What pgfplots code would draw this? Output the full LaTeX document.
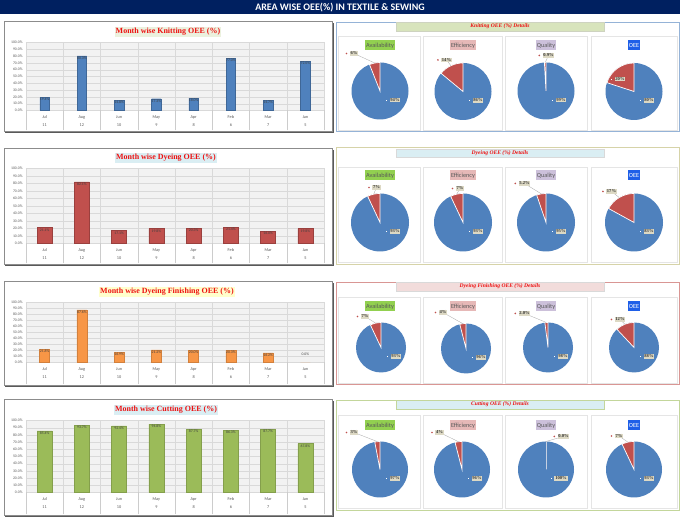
\documentclass[border=0pt]{standalone}
\usepackage{pgfplots}
\pgfplotsset{compat=1.18}
\usepackage{fontspec}
\setmainfont{Carlito}
\newfontfamily\cam{Liberation Serif}
\definecolor{navy}{HTML}{002060}
\definecolor{cblue}{HTML}{4F81BD}
\definecolor{cred}{HTML}{C0504D}
\definecolor{corange}{HTML}{F79646}
\definecolor{cgreen}{HTML}{9BBB59}
\definecolor{ttlred}{HTML}{EE1111}
\definecolor{tanb}{HTML}{DDD9C4}
\definecolor{gtxt}{HTML}{595959}
\definecolor{lblA}{HTML}{92D050}
\definecolor{lblE}{HTML}{E6B8B7}
\definecolor{lblQ}{HTML}{CCC0DA}
\definecolor{lblO}{HTML}{1F5FE8}
\definecolor{tbg1}{HTML}{EBF1DE}
\definecolor{tbg2}{HTML}{DAEEF3}
\definecolor{tbg3}{HTML}{FFFFCC}
\definecolor{hbg1}{HTML}{D8E4BC}
\definecolor{hbg2}{HTML}{DAEEF3}
\definecolor{hbg3}{HTML}{F2DCDB}
\definecolor{pb1}{HTML}{95B3D7}
\definecolor{pb2}{HTML}{D6D3A8}
\definecolor{pb3}{HTML}{D99694}
\definecolor{pb4}{HTML}{C3D69B}

\pgfplotsset{
  barpanel/.style={
    scale only axis, width=298bp, anchor=south west,
    xmin=-0.5, xmax=7.5, ymin=0, ymax=100,
    axis background/.style={fill=black!5},
    axis line style={draw=none},
    ytick={0,10,...,100},
    yticklabel={\pgfmathprintnumber[fixed,fixed zerofill,precision=1]{\tick}\%},
    yticklabel style={font=\fontsize{3.8}{4}\selectfont, text=gtxt},
    xtick={0,...,7},
    xticklabels={{Jul\\11},{Aug\\12},{Jun\\10},{May\\9},{Apr\\8},{Feb\\6},{Mar\\7},{Jan\\5}},
    xticklabel style={align=center, font=\fontsize{4.3}{8}\selectfont, text=gtxt, yshift=-1.5bp},
    minor xtick={-0.5,0.5,...,7.5},
    xminorgrids, ymajorgrids,
    major grid style={black!15, line width=0.3bp},
    minor grid style={black!15, line width=0.3bp},
    major tick length=0pt,
    minor tick length=#1,
    tick align=outside,
    xtick pos=bottom, ytick pos=left,
    minor tick style={black!20, line width=0.3bp},
    clip=false,
    /pgf/number format/assume math mode=true,
    ybar,
    nodes near coords={\pgfmathprintnumber[fixed,fixed zerofill,precision=1]{\pgfplotspointmeta}\%},
    every node near coord/.append style={font=\fontsize{3.8}{4}\selectfont, text=black!75, yshift=-7bp},
  },
}

\newcommand\pie[4]{%
  \fill[cblue] (axis cs:#1,#2) circle[radius=#3bp];
  \filldraw[fill=cred, draw=white, line width=0.7bp] (axis cs:#1,#2) -- ++(0pt,#3bp) arc[start angle=90, delta angle=3.6*#4, radius=#3bp] -- cycle;
}
\newcommand\lfont{\cam\bfseries\fontsize{4.6}{5}\selectfont}
% red label with leader: x y text cx cy r p
\newcommand\rl[7]{%
  \draw[black!35, line width=0.3bp] (#1,#2) -- ([shift={(#4,#5)}]{-90-1.8*#7}:#6);
  \node[fill=tanb, inner sep=0.8bp, font=\lfont, text=black!80] (L) at (#1,#2) {#3};
  \fill[cred] ([xshift=-3bp]L.west) circle[radius=0.9bp];
}
\newcommand\rlnl[3]{%
  \node[fill=tanb, inner sep=0.8bp, font=\lfont, text=black!80] (L) at (#1,#2) {#3};
  \draw[cred, fill=white, line width=0.35bp] ([xshift=-3bp]L.west) +(-1.1,-1.1) rectangle +(1.1,1.1);
}
\newcommand\bl[3]{%
  \node[fill=tanb, inner sep=0.8bp, font=\lfont, text=black!80] (L) at (#1+15,#2+9) {#3};
  \draw[cblue, fill=white, line width=0.35bp] ([xshift=-3bp]L.west) +(-1.1,-1.1) rectangle +(1.1,1.1);
}
\newcommand\cats[1]{%
  \node[fill=lblA, text=gtxt, font=\fontsize{6.3}{7}\selectfont, inner sep=1bp, minimum height=10bp] at (380,#1) {Availability};
  \node[fill=lblE, text=gtxt, font=\fontsize{6.3}{7}\selectfont, inner sep=1bp, minimum height=10bp] at (463,#1) {Efficiency};
  \node[fill=lblQ, text=gtxt, font=\fontsize{6.3}{7}\selectfont, inner sep=1bp, minimum height=10bp] at (546,#1) {Quality};
  \node[fill=lblO, text=white, font=\fontsize{6.3}{7}\selectfont, inner sep=1bp, minimum height=10bp] at (634,#1) {OEE};
}
\newcommand\subp[2]{%
  \foreach \xa/\xb in {338/420,423/502,505/587,591/677} {\draw[black!10, line width=0.4bp] (\xa,#1) rectangle (\xb,#2);}
}

\begin{document}
\begin{tikzpicture}
\fill[white] (0,0) rectangle (680bp,-518bp);
\begin{scope}[x=1bp,y=-1bp]
  \fill[navy] (0,0) rectangle (680,14);
  \node[text=white, font=\bfseries\fontsize{10}{10}\selectfont] at (340,7.3) {AREA WISE OEE(\%) IN TEXTILE \& SEWING};
  % bar panels
  \foreach \ya/\yb in {21/131,148/264,281/385,399/515} {
    \fill[black!65] (5.5,\ya+1.2) rectangle (333.5,\yb+1.5);
    \filldraw[fill=white, draw=black!45, line width=0.4bp] (4,\ya) rectangle (332,\yb);
  }
  \node[fill=tbg1, font=\cam\bfseries\fontsize{8}{9}\selectfont, text=ttlred, inner sep=1.2bp] at (168,31.5) {Month wise Knitting OEE (\%)};
  \node[fill=tbg2, font=\cam\bfseries\fontsize{8}{9}\selectfont, text=ttlred, inner sep=1.2bp] at (166,157.5) {Month wise Dyeing OEE (\%)};
  \node[fill=tbg3, font=\cam\bfseries\fontsize{8}{9}\selectfont, text=ttlred, inner sep=1.2bp] at (167,291.5) {Month wise Dyeing Finishing OEE (\%)};
  \node[fill=tbg2, font=\cam\bfseries\fontsize{8}{9}\selectfont, text=ttlred, inner sep=1.2bp] at (166,409.5) {Month wise Cutting OEE (\%)};
  % pie panels
  \draw[pb1, line width=0.7bp, fill=white] (336,22) rectangle (679,131);
  \draw[pb2, line width=0.7bp, fill=white] (336,147) rectangle (679,264);
  \draw[pb3, line width=0.7bp, fill=white] (336,282) rectangle (679,384);
  \draw[pb4, line width=0.7bp, fill=white] (336,400) rectangle (679,510);
  \subp{36}{130}\subp{167}{262}\subp{297}{383}\subp{415}{508}
  \tikzset{hd/.style={minimum width=208bp, minimum height=8.5bp, inner sep=0pt, font=\cam\bfseries\itshape\fontsize{5.6}{6}\selectfont, text=ttlred}}
  \node[hd, fill=hbg1, draw=hbg1!80!black!60] at (500,26) {Knitting OEE (\%) Details};
  \node[hd, fill=hbg2, draw=black!15] at (500,152.5) {Dyeing OEE (\%) Details};
  \node[hd, fill=hbg3, draw=black!15] at (500,286) {Dyeing Finishing OEE (\%) Details};
  \node[hd, fill=hbg2, draw=pb4] at (500,404) {Cutting OEE (\%) Details};
  \cats{45}\cats{175}\cats{306}\cats{425}
\end{scope}

% ---- bar charts ----
\begin{axis}[barpanel=20bp, at={(26bp,-110bp)}, height=68bp]
  \addplot[fill=cblue, draw=cblue!80!black, bar width=9.5bp, bar shift=0pt] coordinates {(0,19.4) (1,80.3) (2,14.8) (3,17.3) (4,18.0) (5,77.0) (6,14.7) (7,72.0)};
\end{axis}
\begin{axis}[barpanel=20bp, at={(26bp,-243bp)}, height=75bp]
  \addplot[fill=cred, draw=cred!80!black, bar width=15bp, bar shift=0pt] coordinates {(0,21.1) (1,82.1) (2,17.1) (3,19.8) (4,20.3) (5,21.4) (6,16.0) (7,19.8)};
\end{axis}
\begin{axis}[barpanel=22bp, at={(26bp,-362bp)}, height=60bp]
  \addplot[fill=corange, draw=corange!85!black, bar width=10bp, bar shift=0pt] coordinates {(0,21.8) (1,87.6) (2,16.9) (3,21.2) (4,20.0) (5,20.3) (6,16.2)};
  \addplot[fill=corange, draw=none, bar width=10bp, bar shift=0pt, every node near coord/.append style={yshift=10bp}] coordinates {(7,0.0)};
\end{axis}
\begin{axis}[barpanel=22bp, at={(26bp,-492bp)}, height=72bp]
  \addplot[fill=cgreen, draw=cgreen!85!black, bar width=15bp, bar shift=0pt] coordinates {(0,85.4) (1,93.7) (2,92.4) (3,94.8) (4,87.7) (5,86.3) (6,87.7) (7,67.8)};
\end{axis}

% ---- pies ----
\begin{axis}[at={(0,0)}, anchor=north west, x=1bp, y=1bp, y dir=reverse, xmin=0, xmax=680, ymin=0, ymax=518, hide axis, clip=false, enlargelimits=false]
  \pie{380}{90.5}{28.5}{6}   \pie{463}{91}{28.5}{14}  \pie{546}{90.5}{28.5}{0.9} \pie{634}{91}{28.5}{20}
  \pie{380}{222}{29}{7}      \pie{463}{222}{29}{7}    \pie{546}{222}{29}{5.2}    \pie{634}{222}{29}{17}
  \pie{381}{347}{25}{7}      \pie{466}{348}{25}{4}    \pie{548}{347}{25}{2.0}    \pie{634}{347}{25}{12}
  \pie{380}{469}{28}{3}      \pie{462}{469}{28}{4}    \pie{546}{469}{28}{0.0}    \pie{634}{469}{28}{7}
\end{axis}

\begin{scope}[x=1bp,y=-1bp]
  % row 1
  \rl{354}{53}{6\%}{380}{90.5}{28.5}{6}
  \rl{446.5}{59.5}{14\%}{463}{91}{28.5}{14}
  \rl{548.5}{55}{0.9\%}{546}{90.5}{28.5}{0.9}
  \rlnl{620}{78.5}{20\%}
  \bl{380}{90.5}{94\%}\bl{463}{91}{86\%}\bl{546}{90.5}{99\%}\bl{634}{91}{80\%}
  % row 2
  \rl{376.5}{187}{7\%}{380}{222}{29}{7}
  \rl{460}{188}{7\%}{463}{222}{29}{7}
  \rl{524.5}{183}{5.2\%}{546}{222}{29}{5.2}
  \rl{611.5}{191}{17\%}{634}{222}{29}{17}
  \bl{380}{222}{93\%}\bl{463}{222}{93\%}\bl{546}{222}{95\%}\bl{634}{222}{83\%}
  % row 3
  \rl{365}{316}{7\%}{381}{347}{25}{7}
  \rl{443}{312}{4\%}{466}{348}{25}{4}
  \rl{524.5}{313}{2.0\%}{548}{347}{25}{2.0}
  \rl{620}{319}{12\%}{634}{347}{25}{12}
  \bl{381}{347}{93\%}\bl{466}{348}{96\%}\bl{548}{347}{98\%}\bl{634}{347}{88\%}
  % row 4
  \rl{354}{432}{3\%}{380}{469}{28}{3}
  \rl{439.5}{432}{4\%}{462}{469}{28}{4}
  \rl{563.5}{436}{0.0\%}{546}{469}{28}{0.0}
  \rl{619}{435.5}{7\%}{634}{469}{28}{7}
  \bl{380}{469}{97\%}\bl{462}{469}{96\%}\bl{546}{469}{100\%}\bl{634}{469}{93\%}
\end{scope}
\end{tikzpicture}
\end{document}
